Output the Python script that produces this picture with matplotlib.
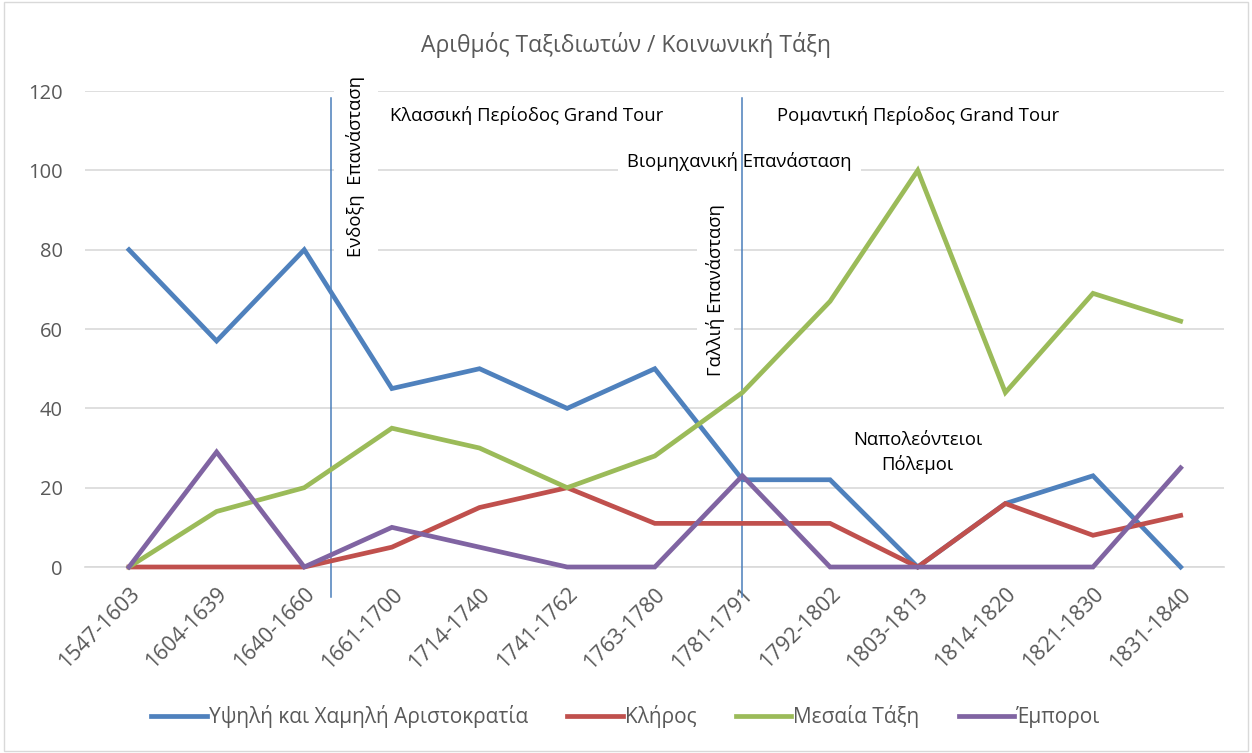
import matplotlib.pyplot as plt
from matplotlib.patches import Rectangle

# Data
periods = ['1547-1603', '1604-1639', '1640-1660', '1661-1700', '1714-1740',
           '1741-1762', '1763-1780', '1781-1791', '1792-1802', '1803-1813',
           '1814-1820', '1821-1830', '1831-1840']
aristocracy = [80, 57, 80, 45, 50, 40, 50, 22, 22, 0, 16, 23, 0]
clergy = [0, 0, 0, 5, 15, 20, 11, 11, 11, 0, 16, 8, 13]
middle_class = [0, 14, 20, 35, 30, 20, 28, 44, 67, 100, 44, 69, 62]
merchants = [0, 29, 0, 10, 5, 0, 0, 23, 0, 0, 0, 0, 25]

series_names = ['Υψηλή και Χαμηλή Αριστοκρατία', 'Κλήρος', 'Μεσαία Τάξη', 'Έμποροι']
series_colors = ['#4F81BD', '#C0504D', '#9BBB59', '#8064A2']

# event markers (vertical lines) in category units
event_lines = [2.3, 7.0]

plt.rcParams['font.family'] = ['Open Sans', 'DejaVu Sans']

fig = plt.figure(figsize=(12.52, 7.53), dpi=100)
ax = fig.add_axes([0.068, 0.247, 0.91, 0.632])

x = list(range(len(periods)))
for vals, name, col in zip([aristocracy, clergy, middle_class, merchants],
                           series_names, series_colors):
    ax.plot(x, vals, color=col, lw=3.4, label=name, zorder=4,
            solid_joinstyle='miter', clip_on=False)

ax.set_xlim(-0.5, 12.5)
ax.set_ylim(0, 120)
ax.set_yticks(range(0, 121, 20))
ax.set_xticks(x)
ax.set_xticklabels(periods, rotation=45, ha='right', va='top',
                   rotation_mode='anchor')
ax.tick_params(axis='both', length=0, labelcolor='#595959')
ax.tick_params(axis='y', pad=16, labelsize=14.5)
ax.tick_params(axis='x', pad=12, labelsize=15.5)
ax.grid(axis='y', color='#D9D9D9', lw=1.2, zorder=0)
ax.set_axisbelow(True)
for side in ['left', 'right', 'top']:
    ax.spines[side].set_visible(False)
ax.spines['bottom'].set_color('#D9D9D9')
ax.spines['bottom'].set_linewidth(1.2)

# vertical event lines
for ex in event_lines:
    ax.plot([ex, ex], [-7.6, 118.3], color='#4A7EBB', lw=1.1, zorder=3,
            clip_on=False)

# annotations
fs = 13.3
box = dict(facecolor='white', edgecolor='none')
ax.text(2.59, 101, 'Ενδοξη  Επανάσταση', rotation=90, ha='center', va='center',
        fontsize=fs, zorder=2, bbox=dict(box, boxstyle='square,pad=0.7'))
ax.text(4.54, 113.9, 'Κλασσική Περίοδος Grand Tour', ha='center', va='center',
        fontsize=fs, zorder=2, bbox=dict(box, boxstyle='square,pad=0.2'))
ax.text(6.97, 102.3, 'Βιομηχανική Επανάσταση', ha='center', va='center',
        fontsize=fs, zorder=2, bbox=dict(box, boxstyle='square,pad=0.5'))
ax.text(6.69, 69.8, 'Γαλλιή Επανάσταση', rotation=90, ha='center', va='center',
        fontsize=fs, zorder=2, bbox=dict(box, boxstyle='square,pad=0.5'))
ax.text(9.0, 113.9, 'Ρομαντική Περίοδος Grand Tour', ha='center', va='center',
        fontsize=fs, zorder=2, bbox=dict(box, boxstyle='square,pad=0.2'))
ax.text(9.0, 29.0, 'Ναπολεόντειοι\nΠόλεμοι', ha='center', va='center',
        fontsize=fs, zorder=2, linespacing=1.4)

fig.text(0.5, 0.94, 'Αριθμός Ταξιδιωτών / Κοινωνική Τάξη', ha='center',
         va='center', fontsize=16.5, color='#595959')

leg = fig.legend(loc='center', bbox_to_anchor=(0.5, 0.048), ncol=4,
                 frameon=False, fontsize=15, handlelength=2.65,
                 handletextpad=0.1, columnspacing=1.9)
for t in leg.get_texts():
    t.set_color('#595959')

# chart border
fig.patches.append(Rectangle((0.003, 0.003), 0.994, 0.994, transform=fig.transFigure,
                             fill=False, edgecolor='#D9D9D9', lw=1))

fig.savefig('out.png', dpi=100)
